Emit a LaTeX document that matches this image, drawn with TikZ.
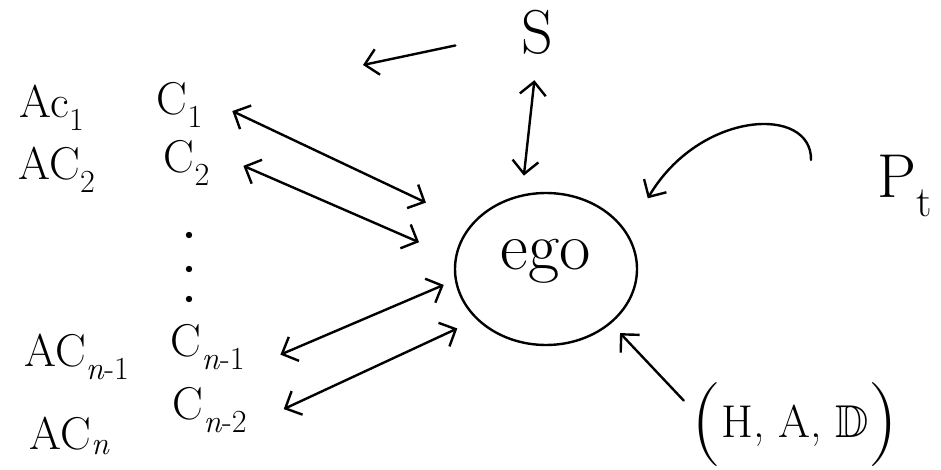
\documentclass[tikz,border=0pt]{standalone}
\usepackage{amssymb}
\usepackage{fontspec}
\usepackage{tikz}
\usetikzlibrary{positioning,shapes.geometric,arrows.meta}
\tikzset{
  >={Straight Barb[length=13pt,width=26pt]},
  every node/.style={inner sep=2pt},
  % --- nodes
  lab/.style     = {font=\fontsize{46}{50}\selectfont},
  biglab/.style  = {font=\fontsize{62}{66}\selectfont},
  egonode/.style = {ellipse, draw, line width=2.4pt, minimum width=182pt,
                    minimum height=152pt, font=\fontsize{68}{72}\selectfont,
                    text height=22pt, text depth=22pt},
  % --- edges
  e/.style       = {<->, line width=2.4pt, line cap=round},
  eone/.style    = {->, line width=2.4pt, line cap=round},
}
\newcommand{\bigpar}[1]{\raisebox{-8pt}{\fontsize{84}{84}\selectfont #1}}
\begin{document}
\begin{tikzpicture}[x=1pt,y=-1pt]
  \useasboundingbox (0,0) rectangle (941,470);

  % left column: actors and contacts
  \node[lab] (ac1)  at (52,108)  {Ac\textsubscript{1}};
  \node[lab] (ac2)  at (57,170)  {AC\textsubscript{2}};
  \node[lab] (acn1) at (77,357)  {AC\textsubscript{\textit{n}-1}};
  \node[lab] (acn)  at (70,436)  {AC\textsubscript{\textit{n}}};
  \node[lab] (c1)   at (180,105) {C\textsubscript{1}};
  \node[lab] (c2)   at (187,163) {C\textsubscript{2}};
  \node[lab] (cn1)  at (208,347) {C\textsubscript{\textit{n}-1}};
  \node[lab] (cn2)  at (210,410) {C\textsubscript{\textit{n}-2}};
  \foreach \y in {235,269,299}
    \fill (189,\y) circle (3.2pt);

  % centre and the rest
  \node[egonode] (ego) at (546,269) {ego};
  \node[biglab] (s)    at (537,32)  {S};
  \node[biglab] (pt)   at (905,186) {P\textsubscript{t}};
  \node[lab]    (had)  at (795,425) {\bigpar{(}H,\ A,\ $\mathbb{D}$\bigpar{)}};

  % connectors
  \draw[e, shorten <=30pt, shorten >=50pt] (c1.15)   -- (ego.149);
  \draw[e, shorten <=34pt, shorten >=39pt] (c2.23)   -- (ego.173);
  \draw[e, shorten <=36pt, shorten >=12pt] (cn1.-29) -- (ego.187);
  \draw[e, shorten <=38pt, shorten >=21pt] (cn2.-21) -- (ego.216);
  \draw[e, shorten <=24pt, shorten >=19pt] (s.south) -- (ego.108);

  \coordinate (sleft) at (363,65);
  \draw[eone, shorten <=65pt] (s.west) -- (sleft);

  \coordinate (ptfrom) at (811,160);
  \draw[eone, shorten >=40pt] (ptfrom) .. controls (812,105) and (700,110) .. (ego.24);

  \draw[eone, shorten <=8pt, shorten >=13pt] (had.170) -- (ego.320);
\end{tikzpicture}
\end{document}
